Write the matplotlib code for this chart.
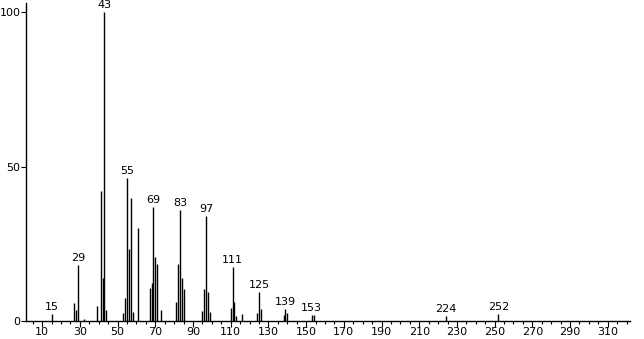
import matplotlib
matplotlib.use("Agg")
import matplotlib.pyplot as plt
from matplotlib.ticker import MultipleLocator, FixedLocator

# m/z values and relative intensities (%)
mz = [15, 27, 28, 29, 32, 39, 41, 42, 43, 44,
      53, 54, 55, 56, 57, 58, 61,
      67, 68, 69, 70, 71, 73,
      81, 82, 83, 84, 85,
      95, 96, 97, 98, 99,
      110, 111, 112, 113, 116,
      124, 125, 126, 138, 139, 140,
      153, 154, 224, 252]
intensity = [2.2, 5.8, 3.6, 18.0, 0.6, 4.9, 42.2, 14.0, 100.0, 3.6,
             2.6, 7.6, 46.2, 23.4, 39.8, 2.9, 30.1,
             10.8, 12.3, 36.9, 20.7, 18.6, 3.6,
             6.2, 18.5, 36.0, 13.9, 10.5,
             3.2, 10.5, 34.0, 9.4, 2.9,
             4.2, 17.5, 6.2, 1.6, 2.3,
             2.6, 9.3, 3.9, 1.9, 3.9, 2.6,
             1.9, 1.9, 1.5, 2.2]
labeled = [15, 29, 43, 55, 69, 83, 97, 111, 125, 139, 153, 224, 252]
xticks = list(range(10, 320, 20))
yticks = [0, 50, 100]

plt.rcParams['font.family'] = ['DejaVu Sans']
fig = plt.figure(figsize=(6.44, 3.39), dpi=100)
ax = fig.add_axes([26/644, 18/339, (630-26)/644, (321-3)/339])

ax.vlines(mz, 0, intensity, colors='black', linewidth=1.0)
lookup = dict(zip(mz, intensity))
for m in labeled:
    ax.annotate(str(m), (m, lookup[m]), xytext=(0, 1.5), textcoords='offset points',
                ha='center', va='bottom', fontsize=8, annotation_clip=False)

ax.set_xlim(1.4, 321.8)
ax.set_ylim(0, 103)
ax.xaxis.set_major_locator(FixedLocator(xticks))
ax.xaxis.set_minor_locator(MultipleLocator(5))
ax.yaxis.set_major_locator(FixedLocator(yticks))
ax.tick_params(axis='x', which='major', length=4, width=0.8, labelsize=8, pad=0.5)
ax.tick_params(axis='x', which='minor', length=2.5, width=0.8)
ax.tick_params(axis='y', which='major', length=3.5, width=0.8, labelsize=8, pad=0.5)
for s in ['top', 'right']:
    ax.spines[s].set_visible(False)
for s in ['left', 'bottom']:
    ax.spines[s].set_linewidth(1.0)

fig.savefig('out.png', dpi=100)
